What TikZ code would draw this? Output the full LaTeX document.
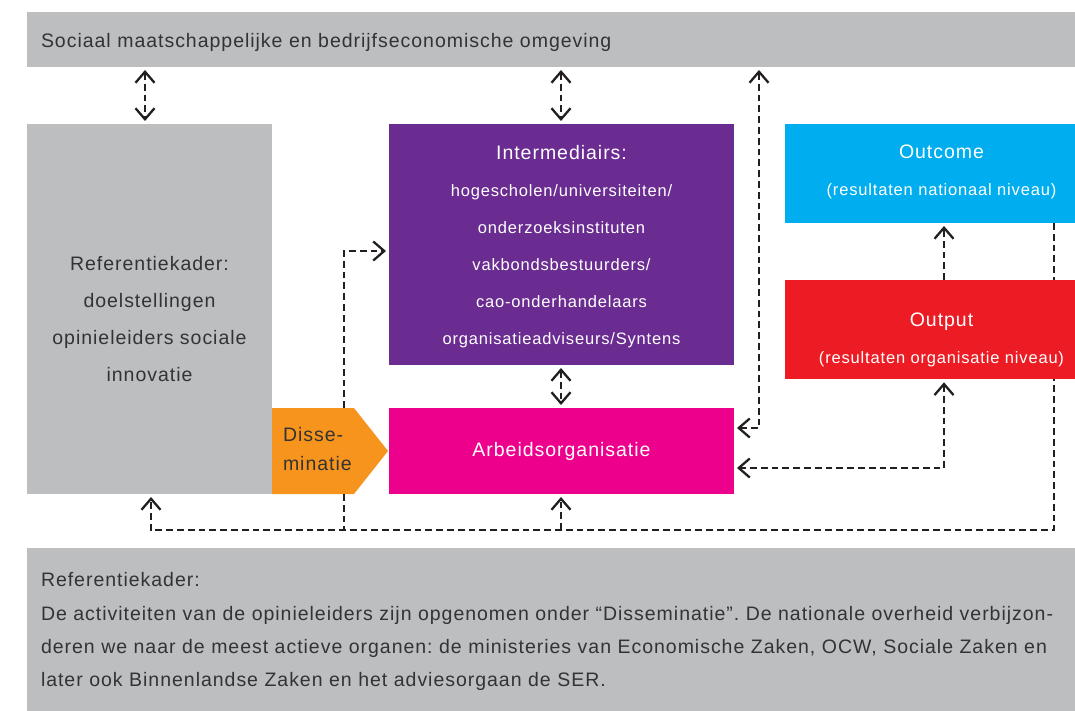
\documentclass[tikz,border=0pt]{standalone}
\usepackage{fontspec}
\setmainfont{Liberation Sans}[LetterSpace=5]
\usetikzlibrary{arrows.meta,calc,backgrounds}
\definecolor{barg}{HTML}{BCBEC0}
\definecolor{purp}{HTML}{6A2C90}
\definecolor{mag}{HTML}{EC008C}
\definecolor{cyanb}{HTML}{00AEEF}
\definecolor{redb}{HTML}{ED1C24}
\definecolor{orab}{HTML}{F7941D}
\definecolor{ink}{HTML}{231F20}
\definecolor{txt}{HTML}{333333}
\newcommand{\uph}[1]{\rule{0pt}{#1pt}}
\newcommand{\dnd}[1]{\rule[-#1pt]{0pt}{#1pt}}
\frenchspacing
\begin{document}
\begin{tikzpicture}[x=1pt,y=-1pt,
  box/.style={rectangle, inner sep=0pt, outer sep=0pt, align=center},
  big/.style={font=\fontsize{19.5}{37}\selectfont},
  small/.style={font=\fontsize{16.5}{37}\selectfont},
  graytxt/.style={text=txt},
  whitetxt/.style={text=white},
  conn/.style={draw=ink, line width=2.3pt, dash pattern=on 6.8pt off 4pt},
  gap/.style={shorten >=3pt},
  gapb/.style={shorten <=3pt, shorten >=3pt},
  >={Straight Barb[length=11pt,width=19pt,line width=2.3pt]}
]
\useasboundingbox (0,0) rectangle (1075,711);
\begin{scope}[on background layer]
\fill[white] (0,0) rectangle (1075,711);
\end{scope}

% lanes
\coordinate (L1) at (145,0);
\coordinate (L0) at (151,0);
\coordinate (L2) at (561,0);
\coordinate (L3) at (759,0);
\coordinate (L4) at (944,0);
\coordinate (L5) at (1054,0);
\coordinate (L6) at (344,0);
\coordinate (Lb) at (0,530);
\coordinate (Ld) at (0,251);
\coordinate (La) at (0,428);
\coordinate (Lc) at (0,468);

% top bar
\node[box, fill=barg, graytxt, minimum width=1071pt, minimum height=55pt,
      inner xsep=14pt, text width=1043pt, align=left,
      font=\fontsize{19.5}{37}\selectfont] (topbar) at (562.5,39.5)
  {\noindent\uph{22}Sociaal maatschappelijke en bedrijfseconomische omgeving\dnd{5}};

% Referentiekader box
\node[box, fill=barg, graytxt, minimum width=245pt, minimum height=370pt,
      font=\fontsize{19.5}{37.3}\selectfont] (ref) at (149.5,309)
  {\uph{39}Referentiekader:\\doelstellingen\\opinieleiders sociale\\innovatie\dnd{5}};

% Disseminatie
\node[box, minimum width=82pt, minimum height=86pt] (diss) at (313,451) {};
\fill[orab] (diss.north west) -- (diss.north east) -- ($(diss.east)+(34,0)$)
  -- (diss.south east) -- (diss.south west) -- cycle;
\node[box, graytxt, align=left, anchor=west, font=\fontsize{19.5}{29}\selectfont]
  (disstext) at (283,451) {\uph{15.4}Disse-\\minatie\dnd{5}};

% Intermediairs
\node[box, fill=purp, whitetxt, minimum width=345pt, minimum height=241pt,
      font=\fontsize{16.5}{36.94}\selectfont] (inter) at (561.5,244.5)
  {{\fontsize{19.5}{36.94}\selectfont\uph{19.3}Intermediairs:}\\
   hogescholen/universiteiten/\\onderzoeksinstituten\\vakbondsbestuurders/\\
   cao-onderhandelaars\\organisatieadviseurs/Syntens\dnd{5}};

% Arbeidsorganisatie
\node[box, fill=mag, whitetxt, big, minimum width=345pt, minimum height=86pt]
  (arbeid) at (561.5,451) {\uph{15}Arbeidsorganisatie\dnd{5}};

% Outcome
\node[box, fill=cyanb, whitetxt, small, minimum width=313pt, minimum height=99pt]
  (outcome) at (941.5,173.5)
  {{\fontsize{19.5}{37}\selectfont\uph{15}Outcome}\\(resultaten nationaal niveau)\dnd{7}};

% Output
\node[box, fill=redb, whitetxt, small, minimum width=313pt, minimum height=99.3pt]
  (output) at (941.5,329.65)
  {{\fontsize{19.5}{37}\selectfont\uph{34.7}Output}\\(resultaten organisatie niveau)\dnd{5}};

% bottom bar
\node[box, fill=barg, graytxt, minimum width=1071pt, minimum height=163pt,
      inner xsep=14pt, text width=1043pt, align=left,
      font=\fontsize{19.5}{33.33}\selectfont] (notes) at (562.5,629.5)
  {\noindent\uph{19.4}Referentiekader:\\
   De activiteiten van de opinieleiders zijn opgenomen onder “Disseminatie”. De nationale overheid verbijzon-\\
   deren we naar de meest actieve organen: de ministeries van Economische Zaken, OCW, Sociale Zaken en\\
   later ook Binnenlandse Zaken en het adviesorgaan de SER.\dnd{5}};

% connectors
\begin{scope}[on background layer]
\draw[conn, ->, gap] (outcome.south -| L5) -- (L5 |- Lb) -- (L0 |- Lb) -- (ref.south -| L0);
\end{scope}
\draw[conn, <->, gapb] (topbar.south -| L1) -- (ref.north -| L1);
\draw[conn, <->, gapb] (topbar.south -| L2) -- (inter.north -| L2);
\draw[conn, <->, gapb] (inter.south -| L2) -- (arbeid.north -| L2);
\draw[conn, <->, gapb] (arbeid.east |- La) -| (topbar.south -| L3);
\draw[conn, <->, gapb] (output.south -| L4) |- (arbeid.east |- Lc);
\draw[conn, ->, gap] (output.north -| L4) -- (outcome.south -| L4);
\draw[conn, ->, gap] (L2 |- Lb) -- (arbeid.south -| L2);
\draw[conn] (diss.south -| L6) -- (L6 |- Lb);
\draw[conn, ->, gap] (diss.north -| L6) |- (inter.west |- Ld);
\end{tikzpicture}
\end{document}
